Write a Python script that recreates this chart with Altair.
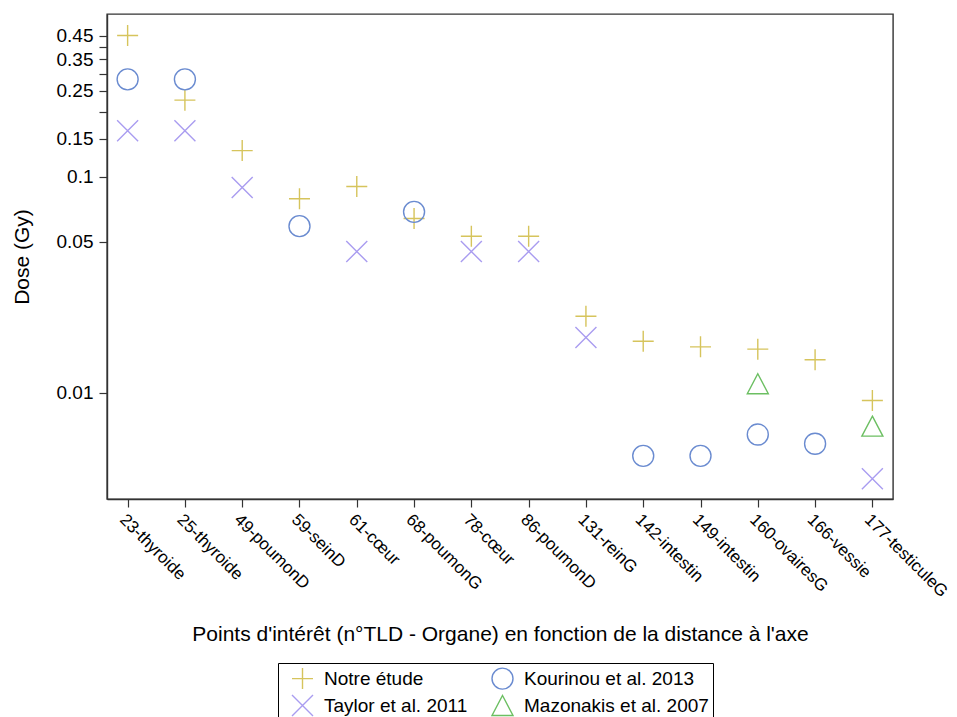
import altair as alt
import pandas as pd

categories = ["23-thyroide", "25-thyroide", "49-poumonD", "59-seinD", "61-cœur",
              "68-poumonG", "78-cœur", "86-poumonD", "131-reinG", "142-intestin",
              "149-intestin", "160-ovairesG", "166-vessie", "177-testiculeG"]

notre = [0.45, 0.226, 0.132, 0.079, 0.090, 0.064, 0.053, 0.053, 0.0226, 0.0173,
         0.0163, 0.0159, 0.0142, 0.0092]
taylor = [0.163, 0.163, 0.089, None, 0.045, None, 0.045, 0.045, 0.018, None,
          None, None, None, 0.0040]
kourinou = [0.282, 0.282, None, 0.059, None, 0.0687, None, None, None, 0.0051,
            0.0051, 0.0064, 0.0058, None]
mazonakis = [None, None, None, None, None, None, None, None, None, None,
             None, 0.011, None, 0.0070]

series_names = ["Notre étude", "Taylor et al. 2011", "Kourinou et al. 2013", "Mazonakis et al. 2007"]
series_values = [notre, taylor, kourinou, mazonakis]
series_colors = ["#d6c45c", "#a99cf0", "#6a8bd0", "#6cbf62"]
series_shapes = ["M-1,0L1,0M0,-1L0,1", "M-1,-1L1,1M-1,1L1,-1", "circle",
                 "M0,-0.95L1,0.95L-1,0.95Z"]

y_ticks = [0.01, 0.05, 0.1, 0.15, 0.2, 0.25, 0.3, 0.35, 0.4, 0.45]

rows = []
for name, vals in zip(series_names, series_values):
    for cat, v in zip(categories, vals):
        if v is not None:
            rows.append({"cat": cat, "dose": v, "serie": name})
df = pd.DataFrame(rows)

legend = alt.Legend(
    title=None, orient="none", legendX=171, legendY=649, columns=2,
    strokeColor="black", padding=4, symbolOffset=9, labelOffset=10,
    columnPadding=14, rowPadding=0, symbolSize=441, symbolStrokeWidth=1.4,
    labelFontSize=19, labelColor="black", labelFont="Liberation Sans", labelLimit=0,
)

chart = alt.Chart(df).mark_point(filled=False, strokeWidth=1.4, size=441, opacity=1).encode(
    x=alt.X("cat:N", sort=categories,
            scale=alt.Scale(type="point", padding=0.36),
            axis=alt.Axis(title="Points d'intérêt (n°TLD - Organe) en fonction de la distance à l'axe",
                          labelAngle=45, labelPadding=4, titlePadding=24, labelLimit=0,
                          labelFontSize=17)),
    y=alt.Y("dose:Q",
            scale=alt.Scale(type="log", domain=[0.00322, 0.566], nice=False),
            axis=alt.Axis(title="Dose (Gy)", values=y_ticks, format="~g",
                          labelExpr="(datum.value == 0.2 || datum.value == 0.3 || datum.value == 0.4) ? '' : datum.label",
                          labelPadding=6, titlePadding=24)),
    shape=alt.Shape("serie:N", scale=alt.Scale(domain=series_names, range=series_shapes), legend=legend),
    color=alt.Color("serie:N", scale=alt.Scale(domain=series_names, range=series_colors), legend=legend),
).properties(
    width=786, height=485,
    autosize=alt.AutoSizeParams(type="none"),
    padding={"left": 99, "top": 6, "right": 56, "bottom": 218},
).configure_view(
    stroke="#333333", strokeWidth=1.4
).configure_axis(
    grid=False, domainColor="#333333", domainWidth=1.4, tickColor="#333333", tickSize=8,
    tickWidth=1.2, labelFont="Liberation Sans", titleFont="Liberation Sans",
    labelFontSize=19, titleFontSize=21, labelColor="black", titleColor="black",
    titleFontWeight="normal",
)

chart.save("out.html", embed_options={"renderer": "svg", "actions": False})
